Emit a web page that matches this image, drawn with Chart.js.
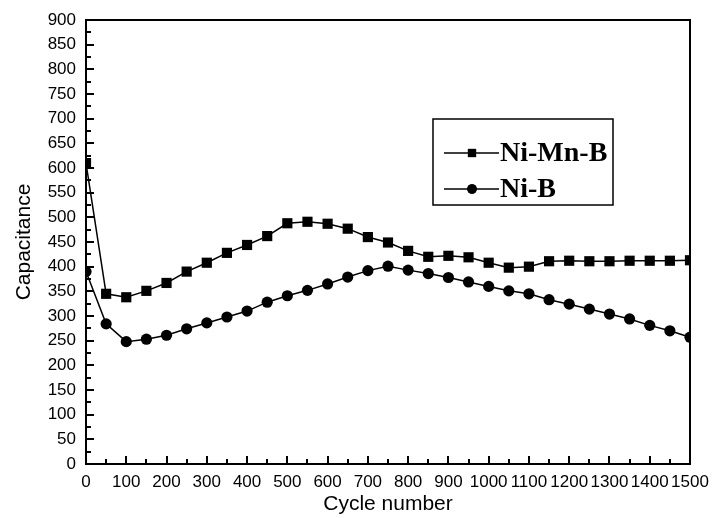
<!DOCTYPE html>
<html lang="en">
<head>
    <meta charset="UTF-8">
    <title>Capacitance vs cycle number</title>
    <script src="https://cdn.jsdelivr.net/npm/chart.js"></script>
    <style>
        body { margin: 0; background: #fff; }
    </style>
</head>
<body>
    <canvas id="cycleChart" width="713" height="518"></canvas>

    <script>
        // data
        const cycles = [0, 50, 100, 150, 200, 250, 300, 350, 400, 450, 500, 550, 600, 650, 700, 750,
                        800, 850, 900, 950, 1000, 1050, 1100, 1150, 1200, 1250, 1300, 1350, 1400, 1450, 1500];
        const niMnB = [610, 345, 338, 351, 367, 390, 408, 428, 444, 462, 488, 491, 487, 477, 460, 449,
                       432, 420, 422, 419, 408, 398, 400, 411, 412, 411, 411, 412, 412, 412, 413];
        const niB = [390, 284, 248, 253, 261, 274, 286, 298, 310, 328, 341, 352, 365, 379, 392, 401,
                     393, 386, 378, 369, 360, 351, 345, 333, 324, 314, 304, 294, 281, 270, 257];
        const seriesNames = ['Ni-Mn-B', 'Ni-B'];
        const xTicks = { min: 0, max: 1500, step: 100, minor: 50 };
        const yTicks = { min: 0, max: 900, step: 50, minor: 25 };

        const toPoints = (vals) => vals.map((v, i) => ({ x: cycles[i], y: v }));
        const sans = '"Liberation Sans", Arial, sans-serif';

        // frame + inward ticks, like the origin plot
        const frameTicks = {
            id: 'frameTicks',
            afterDatasetsDraw(chart) {
                const { ctx, chartArea: a, scales } = chart;
                ctx.save();
                ctx.strokeStyle = '#000';
                ctx.lineWidth = 2;
                ctx.strokeRect(a.left, a.top, a.right - a.left, a.bottom - a.top);
                ctx.beginPath();
                for (let v = xTicks.min; v <= xTicks.max; v += xTicks.minor) {
                    const px = Math.round(scales.x.getPixelForValue(v));
                    const len = (v % xTicks.step === 0) ? 8 : 5;
                    ctx.moveTo(px, a.bottom);
                    ctx.lineTo(px, a.bottom - len);
                }
                for (let v = yTicks.min; v <= yTicks.max; v += yTicks.minor) {
                    const py = Math.round(scales.y.getPixelForValue(v));
                    const len = (v % yTicks.step === 0) ? 8 : 5;
                    ctx.moveTo(a.left, py);
                    ctx.lineTo(a.left + len, py);
                }
                ctx.stroke();
                ctx.restore();
            }
        };

        // boxed legend inside the plot
        const boxLegend = {
            id: 'boxLegend',
            afterDraw(chart) {
                const ctx = chart.ctx;
                const x0 = 433, y0 = 119, w = 180, h = 86;
                ctx.save();
                ctx.strokeStyle = '#000';
                ctx.lineWidth = 1.5;
                ctx.strokeRect(x0, y0, w, h);
                ctx.font = 'bold 28px "Liberation Serif", "Times New Roman", serif';
                ctx.fillStyle = '#000';
                ctx.textBaseline = 'middle';
                chart.data.datasets.forEach((ds, i) => {
                    const y = y0 + 34 + i * 36;
                    ctx.lineWidth = 1.5;
                    ctx.beginPath();
                    ctx.moveTo(444, y);
                    ctx.lineTo(499, y);
                    ctx.stroke();
                    Chart.helpers.drawPoint(ctx, {
                        pointStyle: ds.pointStyle,
                        radius: ds.pointStyle === 'rect' ? 5.8 : 4.8,
                        borderWidth: 0
                    }, 472, y);
                    ctx.fill();
                    ctx.fillText(ds.label, 500, y + 1);
                });
                ctx.restore();
            }
        };

        new Chart(document.getElementById('cycleChart'), {
            type: 'line',
            data: {
                datasets: [{
                    label: seriesNames[0],
                    data: toPoints(niMnB),
                    borderColor: '#000',
                    backgroundColor: '#000',
                    borderWidth: 1.5,
                    pointStyle: 'rect',
                    pointRadius: 7.2,
                    pointBorderWidth: 0,
                    clip: 1
                }, {
                    label: seriesNames[1],
                    data: toPoints(niB),
                    borderColor: '#000',
                    backgroundColor: '#000',
                    borderWidth: 1.5,
                    pointStyle: 'circle',
                    pointRadius: 5.6,
                    pointBorderWidth: 0,
                    clip: 1
                }]
            },
            options: {
                responsive: false,
                animation: false,
                layout: { padding: { top: 20, right: 23, left: 0, bottom: 0 } },
                plugins: {
                    legend: { display: false },
                    tooltip: { enabled: false }
                },
                scales: {
                    x: {
                        type: 'linear',
                        min: xTicks.min,
                        max: xTicks.max,
                        grid: { display: false, drawTicks: false },
                        border: { display: false },
                        ticks: {
                            stepSize: xTicks.step,
                            autoSkip: false,
                            maxRotation: 0,
                            padding: 8,
                            color: '#000',
                            font: { family: sans, size: 17 },
                            callback: (v) => String(v)
                        },
                        title: {
                            display: true,
                            text: 'Cycle number',
                            color: '#000',
                            padding: { top: 0, bottom: 1 },
                            font: { family: sans, size: 21 }
                        },
                        afterFit(scale) {
                            scale.height = 54;
                            scale.paddingLeft = 0;
                            scale.paddingRight = 0;
                        }
                    },
                    y: {
                        min: yTicks.min,
                        max: yTicks.max,
                        grid: { display: false, drawTicks: false },
                        border: { display: false },
                        ticks: {
                            stepSize: yTicks.step,
                            autoSkip: false,
                            padding: 10,
                            color: '#000',
                            font: { family: sans, size: 17 },
                            callback: (v) => String(v)
                        },
                        title: {
                            display: true,
                            text: 'Capacitance',
                            color: '#000',
                            padding: { top: 12, bottom: 0 },
                            font: { family: sans, size: 21 }
                        },
                        afterFit(scale) {
                            scale.width = 86;
                            scale.paddingTop = 0;
                            scale.paddingBottom = 0;
                        }
                    }
                }
            },
            plugins: [frameTicks, boxLegend]
        });
    </script>
</body>
</html>
